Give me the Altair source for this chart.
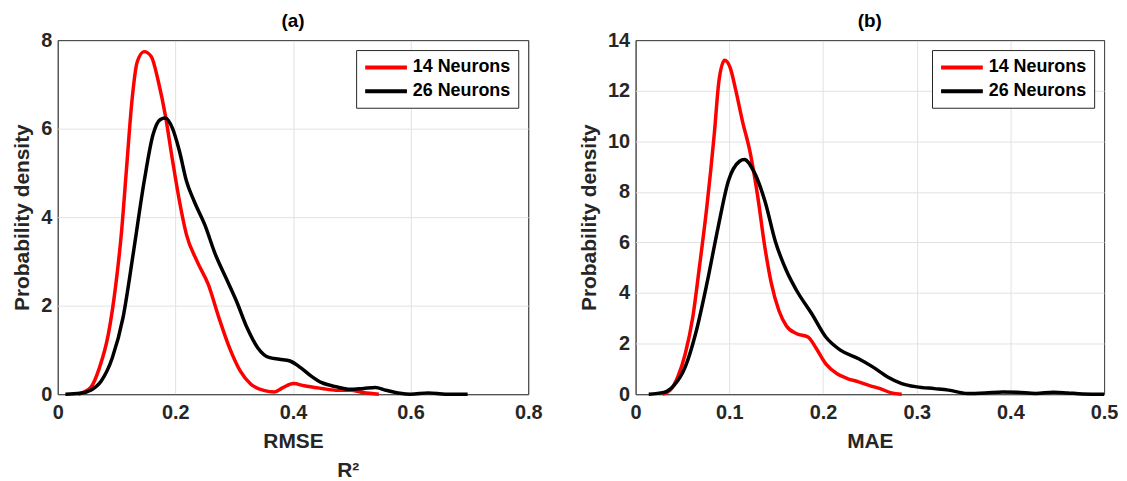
import altair as alt
import pandas as pd

SERIES = ["14 Neurons", "26 Neurons"]
COLORS = ["#ff0000", "#000000"]

# Panel (a): RMSE densities
rmse_x_14 = [0.035, 0.056, 0.071, 0.086, 0.099, 0.108, 0.117, 0.126, 0.135, 0.147, 0.159, 0.171,
             0.183, 0.195, 0.207, 0.219, 0.237, 0.256, 0.274, 0.292, 0.31, 0.328, 0.352, 0.368,
             0.383, 0.401, 0.419, 0.449, 0.473, 0.497, 0.52, 0.546]
rmse_y_14 = [0.0, 0.15, 0.6, 1.35, 2.5, 3.6, 5.1, 6.6, 7.5, 7.74, 7.63, 7.07,
             6.3, 5.3, 4.36, 3.6, 3.0, 2.48, 1.73, 1.05, 0.53, 0.23, 0.08, 0.05,
             0.15, 0.24, 0.19, 0.13, 0.09, 0.09, 0.04, 0.0]
rmse_x_26 = [0.013, 0.038, 0.056, 0.074, 0.093, 0.111, 0.129, 0.147, 0.162, 0.174, 0.183, 0.195,
             0.207, 0.219, 0.232, 0.25, 0.268, 0.286, 0.304, 0.322, 0.34, 0.359, 0.377, 0.395,
             0.413, 0.431, 0.449, 0.473, 0.497, 0.52, 0.54, 0.558, 0.582, 0.6, 0.63, 0.66, 0.697]
rmse_y_26 = [0.0, 0.02, 0.09, 0.3, 0.83, 1.73, 3.23, 4.81, 5.86, 6.2, 6.24, 6.01,
             5.49, 4.81, 4.36, 3.83, 3.16, 2.63, 2.1, 1.5, 1.05, 0.83, 0.79, 0.75,
             0.6, 0.41, 0.26, 0.17, 0.11, 0.13, 0.15, 0.09, 0.02, 0.0, 0.03, 0.0, 0.0]

# Panel (b): MAE densities
mae_x_14 = [0.029, 0.037, 0.045, 0.053, 0.061, 0.068, 0.076, 0.084, 0.089, 0.095, 0.101, 0.107,
            0.114, 0.122, 0.13, 0.138, 0.145, 0.153, 0.161, 0.172, 0.184, 0.192, 0.203, 0.215,
            0.226, 0.238, 0.249, 0.261, 0.273, 0.284]
mae_y_14 = [0.0, 0.16, 0.68, 1.6, 3.04, 5.0, 7.4, 10.3, 12.4, 13.2, 12.9, 12.0,
            10.8, 9.6, 7.9, 5.8, 4.36, 3.3, 2.7, 2.39, 2.26, 1.86, 1.2, 0.81,
            0.62, 0.49, 0.35, 0.22, 0.05, 0.0]
mae_x_26 = [0.014, 0.03, 0.041, 0.053, 0.064, 0.076, 0.088, 0.099, 0.111, 0.116, 0.126, 0.138,
            0.149, 0.161, 0.172, 0.188, 0.203, 0.219, 0.238, 0.253, 0.269, 0.284, 0.3, 0.319,
            0.334, 0.354, 0.373, 0.392, 0.407, 0.427, 0.446, 0.461, 0.477, 0.5]
mae_y_26 = [0.0, 0.07, 0.35, 1.08, 2.39, 4.36, 6.59, 8.43, 9.21, 9.28, 8.82, 7.64,
            6.06, 4.88, 4.09, 3.18, 2.26, 1.73, 1.4, 1.08, 0.68, 0.42, 0.29, 0.22,
            0.16, 0.03, 0.05, 0.09, 0.08, 0.03, 0.08, 0.05, 0.01, 0.0]

rmse_xticks = [0, 0.2, 0.4, 0.6, 0.8]
rmse_yticks = [0, 2, 4, 6, 8]
mae_xticks = [0, 0.1, 0.2, 0.3, 0.4, 0.5]
mae_yticks = [0, 2, 4, 6, 8, 10, 12, 14]

# stray "R²" label printed under panel (a), placed in panel (a) data units
r2_text = ["R\u00b2"]
r2_x = [0.494]
r2_y = [-1.74]

FONT = "Liberation Sans"
TXT = "#262626"
FRAME = "#4d4d4d"
GRID = "#e2e2e2"


def frame(xs14, ys14, xs26, ys26):
    rows = [{"x": x, "y": y, "series": SERIES[0]} for x, y in zip(xs14, ys14)]
    rows += [{"x": x, "y": y, "series": SERIES[1]} for x, y in zip(xs26, ys26)]
    return pd.DataFrame(rows)


def edge_color(lo, hi):
    return {"condition": {"test": f"datum.value <= {lo} || datum.value >= {hi}", "value": FRAME},
            "value": GRID}


def panel(df, xdom, xticks, ydom, yticks, xtitle):
    xs = alt.Scale(domain=xdom, nice=False, zero=False)
    ys = alt.Scale(domain=ydom, nice=False)
    lines = alt.Chart(df).mark_line(strokeWidth=3.5, interpolate="monotone").encode(
        x=alt.X("x:Q", scale=xs,
                axis=alt.Axis(values=xticks, format="~g", title=xtitle,
                              gridColor=edge_color(xdom[0], xdom[1]))),
        y=alt.Y("y:Q", scale=ys,
                axis=alt.Axis(values=yticks, format="~g", title="Probability density",
                              gridColor=edge_color(ydom[0], ydom[1]))),
        color=alt.Color("series:N", scale=alt.Scale(domain=SERIES, range=COLORS),
                        legend=alt.Legend(title=None, orient="top-right", offset=10)),
        detail="series:N",
    )
    return lines, xs, ys


la, xsa, ysa = panel(frame(rmse_x_14, rmse_y_14, rmse_x_26, rmse_y_26), [0, 0.8],
                     rmse_xticks, [0, 8], rmse_yticks, "RMSE")
r2 = alt.Chart(pd.DataFrame({"t": r2_text, "x": r2_x, "y": r2_y})).mark_text(
    font=FONT, fontSize=21, fontWeight="bold", color=TXT, baseline="middle", align="center"
).encode(x=alt.X("x:Q", scale=xsa), y=alt.Y("y:Q", scale=ysa), text="t:N")
a = alt.layer(la, r2).properties(width=473, height=356, title="(a)")

lb, xsb, ysb = panel(frame(mae_x_14, mae_y_14, mae_x_26, mae_y_26), [0, 0.5],
                     mae_xticks, [0, 14], mae_yticks, "MAE")
b = alt.layer(lb).properties(width=471, height=356, title="(b)")

chart = alt.hconcat(a, b, spacing=108, bounds="flush").resolve_legend(
    color="independent"
).properties(
    padding={"left": 3, "top": 2, "right": 0, "bottom": 0},
).configure_view(
    stroke=FRAME, strokeWidth=1
).configure_axis(
    labelFont=FONT, labelFontSize=20, labelFontWeight="bold", labelColor=TXT,
    titleFont=FONT, titleFontSize=21, titleFontWeight="bold", titleColor=TXT,
    gridWidth=1, domain=False, ticks=False, labelPadding=6, labelFlush=False,
).configure_axisX(
    labelPadding=8, titlePadding=9,
).configure_axisY(
    titlePadding=8,
).configure_title(
    font=FONT, fontSize=19, fontWeight="bold", color="#000000", offset=-1, anchor="middle",
).configure_legend(
    labelFont=FONT, labelFontSize=18, labelFontWeight="bold", labelColor="#000000",
    symbolType="M-1,0H4", symbolSize=282, symbolStrokeWidth=4, labelOffset=29,
    symbolFillColor="transparent",
    strokeColor="#262626", fillColor="#ffffff", padding=7, rowPadding=4,
    cornerRadius=0,
)

chart.save("out.html", embed_options={"renderer": "svg", "actions": False})
